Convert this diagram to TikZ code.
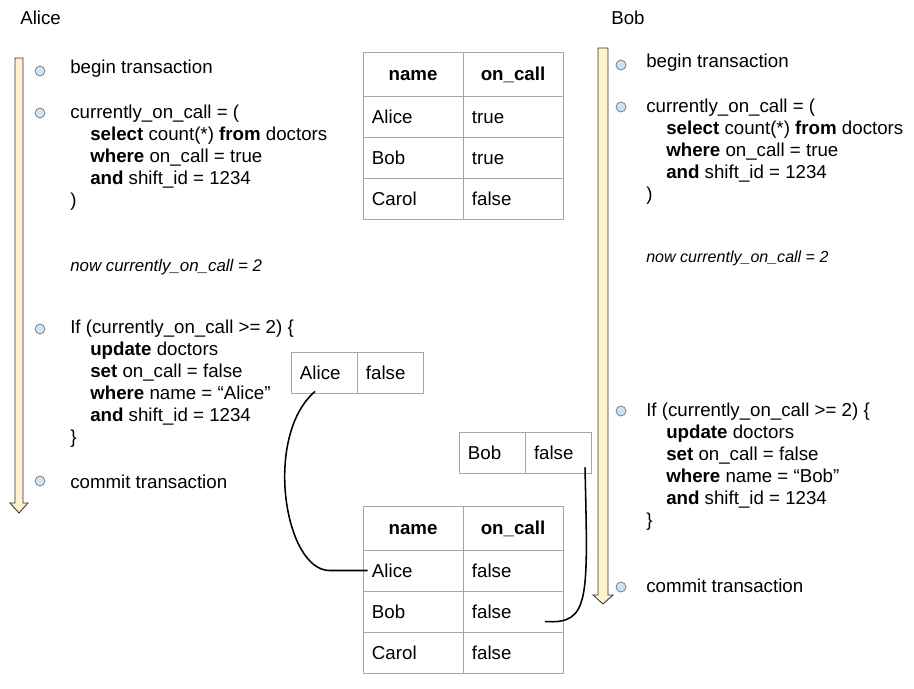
\documentclass[tikz,border=0pt]{standalone}
\usepackage{fontspec}
\setmainfont{Liberation Sans}

\definecolor{flowfill}{HTML}{FFF2CC}
\definecolor{dotfill}{HTML}{CFE2F3}
\definecolor{gridline}{HTML}{A6A6A6}

\tikzset{
  cell/.style={draw=gridline, line width=0.6pt, inner xsep=0.225cm, inner ysep=0pt,
    text width=2.05cm, align=left, minimum height=1.025cm, text height=9.5pt, text depth=0pt},
  headcell/.style={cell, minimum height=1.1cm, align=center, font=\bfseries},
  rowcell/.style={cell, text width=1.2cm},
  code/.style={anchor=north west, inner sep=0pt, align=left},
  line/.style={anchor=base west, inner sep=0pt},
  note/.style={line, font=\fontsize{12}{14}\selectfont\itshape},
  dot/.style={circle, draw=black!55, fill=dotfill, minimum size=0.25cm, inner sep=0pt, line width=0.5pt},
  timeline/.style={draw=black!80, fill=flowfill, line width=0.6pt},
  link/.style={black, line width=1.1pt},
}
\newcommand{\codeindent}{\hspace*{0.5cm}}

\begin{document}
\fontsize{13.3}{15.65}\selectfont
\begin{tikzpicture}[x=0.025cm, y=-0.025cm]
\useasboundingbox (0,0) rectangle (914,689);

% time lines
\draw[timeline] (15,58) -- (23,58) -- (23,503) -- (28,503) -- (19,513) -- (10,503) -- (15,503) -- cycle;
\draw[timeline] (598,48) -- (608,48) -- (608,595) -- (613,595) -- (603,604) -- (593,595) -- (598,595) -- cycle;

% Alice
\node[line] (alice) at (20,25) {Alice};
\node[dot] (aDot1) at (40,71) {};
\node[dot] (aDot2) at (40,113) {};
\node[dot] (aDot3) at (40,329) {};
\node[dot] (aDot4) at (40,481) {};
\node[line] (aBegin) at (70,74) {begin transaction};
\node[code] (aRead) at (70,102.5) {\strut currently\_on\_call = (\\
  \codeindent\textbf{select} count(*) \textbf{from} doctors\\
  \codeindent\textbf{where} on\_call = true\\
  \codeindent\textbf{and} shift\_id = 1234\\
  )};
\node[note] (aNote) at (70,271) {now currently\_on\_call = 2};
\node[code] (aUpdate) at (70,317.5) {\strut If (currently\_on\_call >= 2) \{\\
  \codeindent\textbf{update} doctors\\
  \codeindent\textbf{set} on\_call = false\\
  \codeindent\textbf{where} name = “Alice”\\
  \codeindent\textbf{and} shift\_id = 1234\\
  \}};
\node[line] (aCommit) at (70,488) {commit transaction};

% Bob
\node[line] (bob) at (611,25) {Bob};
\node[dot] (bDot1) at (621,65) {};
\node[dot] (bDot2) at (621,107) {};
\node[dot] (bDot3) at (621,411) {};
\node[dot] (bDot4) at (621,587) {};
\node[line] (bBegin) at (646,68) {begin transaction};
\node[code] (bRead) at (646,96.5) {\strut currently\_on\_call = (\\
  \codeindent\textbf{select} count(*) \textbf{from} doctors\\
  \codeindent\textbf{where} on\_call = true\\
  \codeindent\textbf{and} shift\_id = 1234\\
  )};
\node[note, font=\fontsize{11.4}{13}\selectfont\itshape] (bNote) at (646,263) {now currently\_on\_call = 2};
\node[code] (bUpdate) at (646,400.5) {\strut If (currently\_on\_call >= 2) \{\\
  \codeindent\textbf{update} doctors\\
  \codeindent\textbf{set} on\_call = false\\
  \codeindent\textbf{where} name = “Bob”\\
  \codeindent\textbf{and} shift\_id = 1234\\
  \}};
\node[line] (bCommit) at (646,592) {commit transaction};

% table before
\node[headcell] (t1name) at (413,74) {name};
\node[headcell] (t1call) at (513,74) {on\_call};
\node[cell] (t1alice) at (413,116.5) {Alice};
\node[cell] (t1alicev) at (513,116.5) {true};
\node[cell] (t1bob) at (413,157.5) {Bob};
\node[cell] (t1bobv) at (513,157.5) {true};
\node[cell] (t1carol) at (413,198.5) {Carol};
\node[cell] (t1carolv) at (513,198.5) {false};

% rows written
\node[rowcell] (sAlice) at (324,372.5) {Alice};
\node[rowcell] (sAliceV) at (390,372.5) {false};
\node[rowcell] (sBob) at (492,452.5) {Bob};
\node[rowcell] (sBobV) at (558,452.5) {false};

% table after
\node[headcell] (t2name) at (413,528) {name};
\node[headcell] (t2call) at (513,528) {on\_call};
\node[cell] (t2alice) at (413,570.5) {Alice};
\node[cell] (t2alicev) at (513,570.5) {false};
\node[cell] (t2bob) at (413,611.5) {Bob};
\node[cell] (t2bobv) at (513,611.5) {false};
\node[cell] (t2carol) at (413,652.5) {Carol};
\node[cell] (t2carolv) at (513,652.5) {false};

% links
\draw[link] ([xshift=-0.225cm,yshift=0.05cm]sAlice.south) .. controls +(-52,45) and +(-45,0) .. ([xshift=-0.825cm]t2alice.west) -- ([xshift=0.125cm]t2alice.west);
\draw[link] ([xshift=0.675cm,yshift=0.15cm]sBobV.south) .. controls +(3,133) and +(45,3) .. ([xshift=0.8cm,yshift=-0.25cm]t2bobv.center);

\end{tikzpicture}
\end{document}
